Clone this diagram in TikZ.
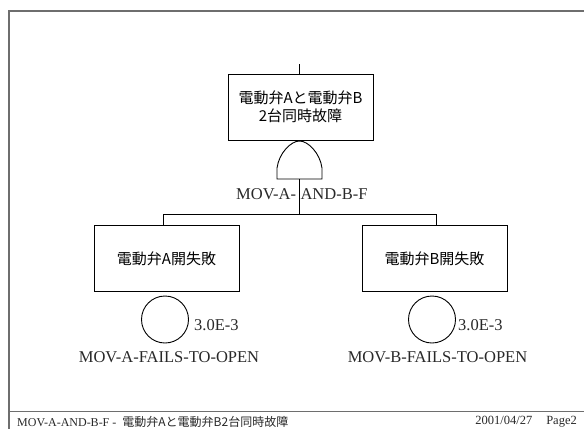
\documentclass[tikz,border=0pt]{standalone}
\usepackage{fontspec}
\setmainfont{Liberation Serif}
\newfontfamily\jp{Noto Sans CJK JP}
\definecolor{framegray}{RGB}{110,110,110}
\definecolor{txtgray}{RGB}{40,40,40}
\begin{document}
\begin{tikzpicture}[x=1pt,y=-1pt,
  evbox/.style={draw, line width=0.9pt, minimum width=145pt, minimum height=66pt, inner sep=0pt, align=center, font=\jp\fontsize{15}{18.5}\selectfont},
  basic/.style={draw, line width=0.9pt, circle, minimum size=47pt, inner sep=0pt},
  lbl/.style={inner sep=0pt, text=txtgray, font=\fontsize{16.5}{19}\selectfont},
  prob/.style={inner sep=0pt, anchor=west, text=txtgray, font=\fontsize{16.5}{19}\selectfont},
  conn/.style={line width=0.9pt},
  frame/.style={draw=framegray, line width=1.5pt}
]
\useasboundingbox (0,0) rectangle (584,429);
% page frame
\draw[frame] (584,11) -- (9,11) -- (9,429);
\draw[frame] (9,411.5) -- (584,411.5);
% top event
\node[evbox] (top) at (300.5,107) {電動弁Aと電動弁B\\2台同時故障};
\coordinate (topin) at (299.5,64);
\draw[conn] (topin) -- (topin |- top.north);
% AND gate
\coordinate (gtop) at (299.5,141);
\coordinate (gbot) at (299.5,179);
\draw[conn] (277,179) -- (277,168) .. controls (279,153) and (291,141) .. (gtop)
  .. controls (308,141) and (320,153) .. (322,168) -- (322,179) -- cycle;
\node[lbl, anchor=west] (glbl) at (236,194) {MOV-A-\hspace{4.5pt}AND-B-F};
% children
\node[evbox] (ea) at (166.5,258.5) {電動弁A開失敗};
\node[evbox] (eb) at (434.5,258.5) {電動弁B開失敗};
\coordinate (bar) at (299.5,214);
\draw[conn] (gbot) -- (bar);
\draw[conn] (bar) -| ([xshift=-3.5pt]ea.north);
\draw[conn] (bar) -| ([xshift=1.5pt]eb.north);
% basic events
\node[basic] (ba) at (165,319.5) {};
\node[basic] (bb) at (432,319.5) {};
\node[prob] (pa) at (194,325) {3.0E-3};
\node[prob] (pb) at (458,325) {3.0E-3};
\node[lbl] (la) at (169,357) {MOV-A-FAILS-TO-OPEN};
\node[lbl] (lb) at (437.5,357) {MOV-B-FAILS-TO-OPEN};
% footer
\node[inner sep=0pt, anchor=west, text=txtgray, font=\fontsize{12}{14}\selectfont] (ft) at (17,422)
  {MOV-A-AND-B-F -\ \ {\jp 電動弁Aと電動弁B2台同時故障}};
\node[inner sep=0pt, anchor=east, text=txtgray, font=\fontsize{12.5}{14}\selectfont] (fd) at (577,422)
  {2001/04/27\hspace{14pt}Page2};
\end{tikzpicture}
\end{document}
